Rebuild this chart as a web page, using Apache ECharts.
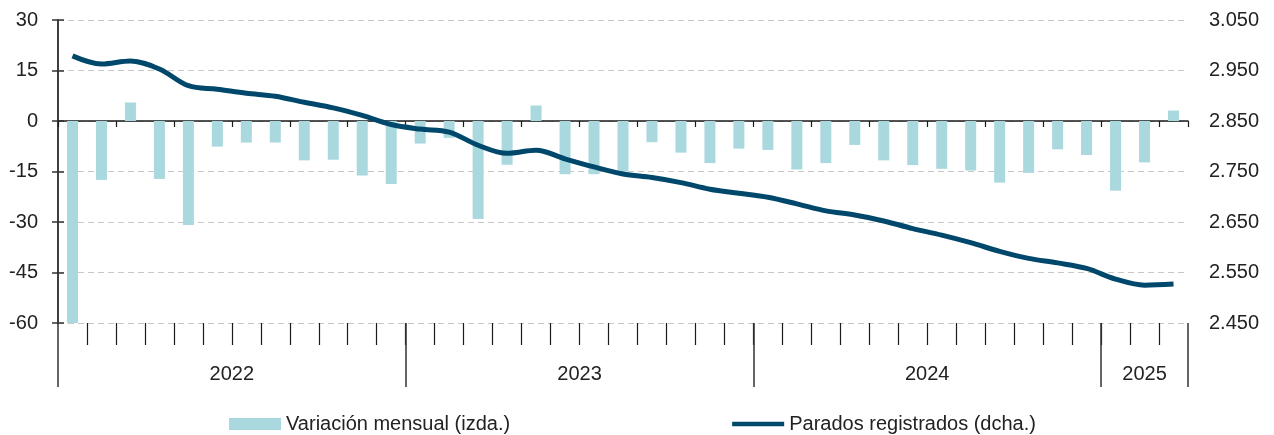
<!DOCTYPE html>
<html>
<head>
<meta charset="utf-8">
<script src="https://cdn.jsdelivr.net/npm/echarts@6/dist/echarts.min.js"></script>
<style>
html,body{margin:0;padding:0;background:#fff;}
#chart{width:1274px;height:435px;}
</style>
</head>
<body>
<div id="chart"></div>
<script>
const months = [
  'ene-22','feb-22','mar-22','abr-22','may-22','jun-22','jul-22','ago-22','sep-22','oct-22','nov-22','dic-22',
  'ene-23','feb-23','mar-23','abr-23','may-23','jun-23','jul-23','ago-23','sep-23','oct-23','nov-23','dic-23',
  'ene-24','feb-24','mar-24','abr-24','may-24','jun-24','jul-24','ago-24','sep-24','oct-24','nov-24','dic-24',
  'ene-25','feb-25','mar-25'
];
const variacionMensual = [
  -60.1,-17.5,5.5,-17.2,-30.9,-7.6,-6.4,-6.4,-11.7,-11.5,-16.2,-18.7,
  -6.7,-5.0,-29.1,-13.0,4.6,-15.8,-15.8,-15.0,-6.3,-9.4,-12.5,-8.2,
  -8.6,-14.4,-12.5,-7.1,-11.7,-13.1,-14.2,-14.7,-18.3,-15.4,-8.4,-10.1,
  -20.7,-12.3,3.1
];
const paradosRegistrados = [
  2979,2963,2969,2953,2920,2913,2905,2899,2887,2876,2861,2843,
  2834,2828,2802,2786,2792,2775,2759,2745,2738,2728,2715,2707,
  2699,2686,2672,2664,2652,2637,2624,2609,2592,2578,2569,2558,
  2537,2525,2527
];
const years = ['2022','2023','2024','2025'];
const yearStartIdx = [0,12,24,36,39];
const yearLabelPos = [6,18,30,37.5];
const leftTicks = {min:-60,max:30,interval:15};
const rightTicks = {min:2450,max:3050,interval:100};

const monthBoundaries = [];
for (let i = 1; i < months.length; i++) monthBoundaries.push(i);

const FONT = '"Liberation Sans", Arial, sans-serif';
const chart = echarts.init(document.getElementById('chart'), null, {renderer:'canvas'});
chart.setOption({
  animation:false,
  textStyle:{fontFamily:FONT},
  grid:{left:58,right:86,top:20,bottom:112,containLabel:false,outerBoundsMode:'none'},
  legend:{
    bottom:1,left:229,padding:0,itemWidth:52,itemHeight:12,itemGap:222,
    textStyle:{fontFamily:FONT,fontSize:20,color:'#222'},
    data:[
      {name:'Variación mensual (izda.)',icon:'rect'},
      {name:'Parados registrados (dcha.)',icon:'path://M0,0 L52,0 L52,4.5 L0,4.5 Z'}
    ]
  },
  xAxis:[
    {
      type:'category',data:months,boundaryGap:true,
      axisLine:{show:true,onZero:true,onZeroAxisIndex:0,lineStyle:{color:'#1a1a1a',width:1.5}},
      axisTick:{show:true,length:6,lineStyle:{color:'#1a1a1a',width:1.2}},
      axisLabel:{show:false},splitLine:{show:false}
    },
    {
      type:'value',min:0,max:months.length,position:'bottom',
      axisLine:{show:false,onZero:false},
      axisTick:{show:true,length:22,customValues:monthBoundaries,lineStyle:{color:'#1a1a1a',width:1.2}},
      axisLabel:{show:false},splitLine:{show:false}
    },
    {
      type:'value',min:0,max:months.length,position:'bottom',
      axisLine:{show:false,onZero:false},
      axisTick:{show:true,length:64,customValues:yearStartIdx,lineStyle:{color:'#333',width:1.5}},
      axisLabel:{show:true,customValues:yearLabelPos,margin:41,fontSize:20,color:'#222',fontFamily:FONT,
        formatter:function(v){const k=yearLabelPos.indexOf(v);return k>=0?years[k]:'';}},
      splitLine:{show:false}
    }
  ],
  yAxis:[
    {
      type:'value',position:'left',min:leftTicks.min,max:leftTicks.max,interval:leftTicks.interval,
      axisLine:{show:true,lineStyle:{color:'#333',width:1.5}},
      axisTick:{show:true,length:6,lineStyle:{color:'#333',width:1.5}},
      axisLabel:{margin:20,fontSize:20,color:'#222',fontFamily:FONT},
      splitLine:{show:true,lineStyle:{color:'#c8c8c8',type:[6,4],width:1.2}}
    },
    {
      type:'value',position:'right',min:rightTicks.min,max:rightTicks.max,interval:rightTicks.interval,
      axisLine:{show:true,lineStyle:{color:'#333',width:1.5}},
      axisTick:{show:true,length:6,lineStyle:{color:'#333',width:1.5}},
      axisLabel:{margin:21,fontSize:20,color:'#222',fontFamily:FONT,
        formatter:function(v){const s=String(v);return s.length>3?s.slice(0,s.length-3)+'.'+s.slice(-3):s;}},
      splitLine:{show:false}
    }
  ],
  series:[
    {
      name:'Variación mensual (izda.)',type:'bar',xAxisIndex:0,yAxisIndex:0,
      data:variacionMensual,barWidth:11,itemStyle:{color:'#a9d8df'},z:2
    },
    {
      name:'Parados registrados (dcha.)',type:'line',xAxisIndex:0,yAxisIndex:1,
      data:paradosRegistrados,smooth:0.35,symbol:'none',
      lineStyle:{color:'#00486b',width:5},itemStyle:{color:'#00486b'},z:3
    }
  ]
});
</script>
</body>
</html>
